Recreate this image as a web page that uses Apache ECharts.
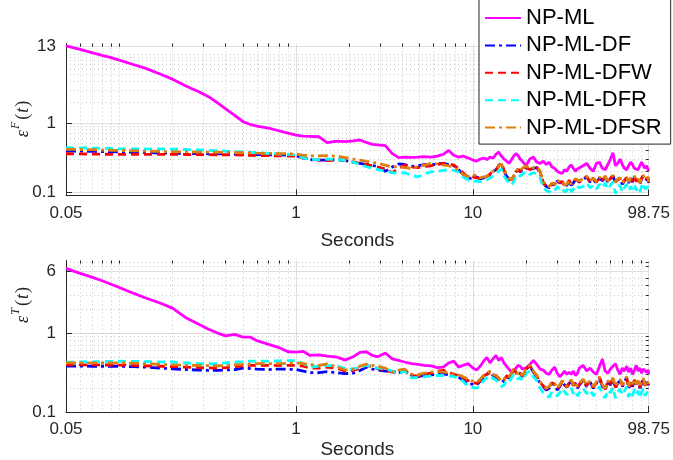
<!DOCTYPE html>
<html>
<head>
<meta charset="utf-8">
<script src="https://cdn.jsdelivr.net/npm/echarts@6/dist/echarts.min.js"></script>
<style>
  html, body { margin: 0; padding: 0; background: #fff; }
  #chart { width: 673px; height: 460px; }
</style>
</head>
<body>
<div id="chart"></div>
<script>
// Time stamps (seconds), shared by both panels
const seconds = [
  0.05, 0.06, 0.07, 0.08, 0.09, 0.1, 0.12, 0.14, 0.17, 0.2,
  0.24, 0.28, 0.32, 0.36, 0.4, 0.45, 0.5, 0.55, 0.6, 0.7,
  0.8, 0.9, 1, 1.1, 1.2, 1.35, 1.5, 1.7, 1.9, 2.1,
  2.3, 2.5, 2.7, 2.9, 3.2, 3.5, 3.8, 4.1, 4.5, 4.9,
  5.3, 5.8, 6.3, 6.8, 7.3, 7.8, 8.3, 8.8, 9.4, 10,
  10.5, 11, 11.5, 12, 12.5, 13, 13.5, 14, 14.5, 15,
  15.5, 16, 16.5, 17, 17.5, 18, 18.5, 19, 19.5, 20,
  21, 22, 23, 24, 25, 26, 27, 28, 29, 30,
  31, 32, 33, 34, 35, 36, 37, 38, 39, 40,
  42, 44, 46, 48, 50, 52, 54, 56, 58, 60,
  62, 64, 66, 68, 70, 72, 74, 76, 78, 80,
  82, 84, 86, 88, 90, 92, 94, 96, 98, 98.75
];

const seriesNames = ['NP-ML', 'NP-ML-DF', 'NP-ML-DFW', 'NP-ML-DFR', 'NP-ML-DFSR'];

// ---- Upper panel: eps^F(t) ----
const errF_ML = [
  13.0, 11.6, 10.4, 9.5, 8.8, 8.1, 7.0, 6.2, 5.1, 4.3,
  3.4, 2.85, 2.4, 1.95, 1.6, 1.28, 1.05, 0.95, 0.90, 0.84,
  0.77, 0.71, 0.665, 0.645, 0.64, 0.63, 0.52, 0.545, 0.535, 0.55,
  0.566, 0.52, 0.49, 0.48, 0.47, 0.36, 0.315, 0.32, 0.318, 0.32,
  0.325, 0.32, 0.33, 0.35, 0.40, 0.34, 0.32, 0.33, 0.31, 0.29,
  0.28, 0.30, 0.31, 0.295, 0.32, 0.31, 0.35, 0.38, 0.33, 0.30,
  0.28, 0.26, 0.29, 0.33, 0.36, 0.34, 0.30, 0.28, 0.29, 0.24,
  0.30, 0.32, 0.27, 0.26, 0.28, 0.25, 0.27, 0.23, 0.22, 0.20,
  0.19, 0.185, 0.21, 0.20, 0.23, 0.245, 0.22, 0.20, 0.215, 0.21,
  0.24, 0.26, 0.22, 0.20, 0.26, 0.27, 0.22, 0.21, 0.25, 0.30,
  0.37, 0.24, 0.26, 0.30, 0.25, 0.22, 0.21, 0.24, 0.27, 0.25,
  0.22, 0.23, 0.21, 0.24, 0.27, 0.26, 0.22, 0.24, 0.21, 0.20
];
const errF_DF = [
  0.392, 0.39, 0.387, 0.385, 0.382, 0.38, 0.376, 0.372, 0.367, 0.363,
  0.36, 0.359, 0.358, 0.356, 0.355, 0.352, 0.35, 0.349, 0.348, 0.346,
  0.344, 0.34, 0.335, 0.31, 0.295, 0.29, 0.29, 0.295, 0.285, 0.27,
  0.26, 0.25, 0.243, 0.232, 0.20, 0.23, 0.255, 0.25, 0.235, 0.24,
  0.25, 0.245, 0.255, 0.26, 0.25, 0.24, 0.21, 0.18, 0.155, 0.16,
  0.165, 0.155, 0.16, 0.165, 0.18, 0.195, 0.21, 0.24, 0.26, 0.20,
  0.17, 0.155, 0.145, 0.165, 0.19, 0.215, 0.195, 0.21, 0.23, 0.235,
  0.21, 0.22, 0.225, 0.19, 0.135, 0.12, 0.115, 0.13, 0.125, 0.145,
  0.135, 0.14, 0.12, 0.125, 0.145, 0.125, 0.135, 0.15, 0.155, 0.14,
  0.15, 0.165, 0.14, 0.15, 0.135, 0.16, 0.145, 0.165, 0.14, 0.155,
  0.17, 0.135, 0.15, 0.155, 0.13, 0.145, 0.16, 0.135, 0.155, 0.14,
  0.165, 0.14, 0.15, 0.13, 0.155, 0.17, 0.145, 0.15, 0.16, 0.135
];
const errF_DFW = [
  0.358, 0.356, 0.354, 0.352, 0.351, 0.35, 0.35, 0.35, 0.35, 0.35,
  0.349, 0.348, 0.347, 0.346, 0.346, 0.344, 0.342, 0.34, 0.338, 0.336,
  0.334, 0.332, 0.33, 0.31, 0.30, 0.29, 0.284, 0.29, 0.285, 0.27,
  0.26, 0.25, 0.24, 0.23, 0.215, 0.19, 0.22, 0.245, 0.23, 0.225,
  0.235, 0.24, 0.25, 0.26, 0.255, 0.245, 0.22, 0.19, 0.165, 0.165,
  0.16, 0.158, 0.162, 0.168, 0.182, 0.198, 0.205, 0.24, 0.265, 0.205,
  0.175, 0.158, 0.148, 0.168, 0.195, 0.21, 0.198, 0.215, 0.232, 0.238,
  0.212, 0.222, 0.228, 0.195, 0.138, 0.122, 0.118, 0.132, 0.128, 0.148,
  0.138, 0.142, 0.122, 0.128, 0.148, 0.128, 0.138, 0.152, 0.158, 0.142,
  0.152, 0.168, 0.142, 0.155, 0.138, 0.162, 0.148, 0.168, 0.142, 0.158,
  0.172, 0.138, 0.152, 0.158, 0.132, 0.148, 0.162, 0.138, 0.158, 0.145,
  0.168, 0.142, 0.152, 0.132, 0.158, 0.172, 0.148, 0.155, 0.162, 0.138
];
const errF_DFR = [
  0.437, 0.435, 0.432, 0.43, 0.426, 0.422, 0.42, 0.42, 0.42, 0.418,
  0.412, 0.408, 0.402, 0.396, 0.39, 0.385, 0.38, 0.375, 0.37, 0.362,
  0.355, 0.35, 0.343, 0.31, 0.297, 0.295, 0.30, 0.295, 0.285, 0.27,
  0.25, 0.232, 0.22, 0.21, 0.20, 0.19, 0.186, 0.19, 0.175, 0.166,
  0.18, 0.196, 0.20, 0.205, 0.21, 0.205, 0.195, 0.165, 0.15, 0.14,
  0.145, 0.14, 0.145, 0.15, 0.16, 0.17, 0.18, 0.20, 0.215, 0.17,
  0.15, 0.135, 0.125, 0.14, 0.165, 0.18, 0.17, 0.18, 0.19, 0.20,
  0.18, 0.19, 0.185, 0.16, 0.115, 0.105, 0.10, 0.11, 0.105, 0.12,
  0.11, 0.115, 0.10, 0.105, 0.12, 0.10, 0.11, 0.125, 0.13, 0.115,
  0.12, 0.135, 0.115, 0.125, 0.11, 0.13, 0.115, 0.135, 0.11, 0.125,
  0.14, 0.095, 0.12, 0.125, 0.10, 0.115, 0.13, 0.105, 0.12, 0.11,
  0.13, 0.105, 0.115, 0.10, 0.12, 0.135, 0.11, 0.115, 0.12, 0.105
];
const errF_DFSR = [
  0.415, 0.412, 0.41, 0.405, 0.402, 0.40, 0.395, 0.39, 0.386, 0.383,
  0.38, 0.378, 0.377, 0.376, 0.375, 0.372, 0.37, 0.368, 0.365, 0.362,
  0.36, 0.357, 0.355, 0.34, 0.335, 0.333, 0.335, 0.33, 0.315, 0.30,
  0.29, 0.278, 0.27, 0.26, 0.245, 0.23, 0.235, 0.225, 0.22, 0.232,
  0.245, 0.26, 0.255, 0.245, 0.24, 0.225, 0.205, 0.18, 0.168, 0.18,
  0.17, 0.16, 0.165, 0.17, 0.185, 0.20, 0.21, 0.235, 0.255, 0.21,
  0.18, 0.16, 0.15, 0.17, 0.20, 0.215, 0.20, 0.22, 0.235, 0.24,
  0.215, 0.225, 0.23, 0.20, 0.14, 0.125, 0.12, 0.135, 0.13, 0.15,
  0.14, 0.145, 0.125, 0.13, 0.15, 0.13, 0.14, 0.155, 0.16, 0.145,
  0.155, 0.17, 0.145, 0.16, 0.14, 0.165, 0.15, 0.17, 0.145, 0.16,
  0.175, 0.14, 0.155, 0.16, 0.135, 0.15, 0.165, 0.14, 0.16, 0.15,
  0.17, 0.145, 0.155, 0.135, 0.16, 0.175, 0.15, 0.16, 0.165, 0.14
];

// ---- Lower panel: eps^T(t) ----
const errT_ML = [
  6.6, 5.7, 5.1, 4.6, 4.15, 3.78, 3.2, 2.8, 2.4, 2.07,
  1.55, 1.3, 1.12, 1.0, 0.92, 0.96, 0.89, 0.89, 0.80, 0.72,
  0.655, 0.58, 0.575, 0.585, 0.52, 0.53, 0.51, 0.495, 0.455, 0.50,
  0.57, 0.58, 0.52, 0.50, 0.56, 0.47, 0.45, 0.43, 0.41, 0.40,
  0.39, 0.385, 0.365, 0.37, 0.42, 0.44, 0.37, 0.39, 0.41, 0.36,
  0.34, 0.38, 0.44, 0.49, 0.42, 0.47, 0.52, 0.45, 0.49, 0.42,
  0.38, 0.35, 0.32, 0.33, 0.36, 0.39, 0.38, 0.35, 0.34, 0.36,
  0.40, 0.45, 0.40, 0.35, 0.34, 0.31, 0.30, 0.34, 0.37, 0.31,
  0.28, 0.30, 0.33, 0.30, 0.32, 0.30, 0.33, 0.29, 0.31, 0.36,
  0.39, 0.33, 0.36, 0.32, 0.30, 0.38, 0.47, 0.33, 0.31, 0.35,
  0.38, 0.41, 0.34, 0.30, 0.36, 0.33, 0.38, 0.32, 0.36, 0.30,
  0.34, 0.39, 0.33, 0.36, 0.31, 0.35, 0.37, 0.32, 0.34, 0.30
];
const errT_DF = [
  0.382, 0.381, 0.38, 0.38, 0.38, 0.38, 0.375, 0.37, 0.36, 0.353,
  0.345, 0.34, 0.337, 0.337, 0.34, 0.345, 0.36, 0.355, 0.35, 0.345,
  0.35, 0.348, 0.346, 0.33, 0.315, 0.315, 0.325, 0.315, 0.306, 0.31,
  0.335, 0.37, 0.35, 0.34, 0.33, 0.33, 0.31, 0.34, 0.29, 0.28,
  0.29, 0.295, 0.30, 0.305, 0.295, 0.29, 0.275, 0.255, 0.225, 0.225,
  0.22, 0.245, 0.275, 0.30, 0.32, 0.29, 0.28, 0.26, 0.235, 0.25,
  0.28, 0.27, 0.30, 0.34, 0.32, 0.29, 0.31, 0.28, 0.30, 0.35,
  0.38, 0.32, 0.28, 0.23, 0.21, 0.19, 0.20, 0.23, 0.22, 0.19,
  0.21, 0.24, 0.22, 0.20, 0.23, 0.245, 0.21, 0.23, 0.20, 0.22,
  0.25, 0.21, 0.24, 0.20, 0.23, 0.27, 0.21, 0.19, 0.24, 0.22,
  0.26, 0.20, 0.23, 0.25, 0.21, 0.24, 0.27, 0.20, 0.23, 0.21,
  0.25, 0.22, 0.24, 0.20, 0.23, 0.26, 0.21, 0.24, 0.22, 0.23
];
const errT_DFW = [
  0.396, 0.395, 0.395, 0.394, 0.394, 0.393, 0.39, 0.385, 0.38, 0.375,
  0.37, 0.365, 0.362, 0.36, 0.365, 0.375, 0.385, 0.39, 0.39, 0.39,
  0.39, 0.39, 0.39, 0.38, 0.36, 0.36, 0.37, 0.36, 0.33, 0.335,
  0.36, 0.39, 0.37, 0.355, 0.34, 0.32, 0.325, 0.335, 0.29, 0.285,
  0.30, 0.31, 0.33, 0.337, 0.32, 0.30, 0.29, 0.27, 0.25, 0.235,
  0.23, 0.25, 0.285, 0.30, 0.325, 0.295, 0.29, 0.265, 0.24, 0.255,
  0.285, 0.28, 0.305, 0.345, 0.32, 0.295, 0.315, 0.285, 0.305, 0.355,
  0.385, 0.325, 0.285, 0.235, 0.215, 0.195, 0.205, 0.235, 0.225, 0.195,
  0.215, 0.245, 0.225, 0.205, 0.235, 0.25, 0.215, 0.235, 0.205, 0.225,
  0.255, 0.215, 0.245, 0.205, 0.235, 0.275, 0.215, 0.195, 0.245, 0.225,
  0.265, 0.205, 0.235, 0.255, 0.215, 0.245, 0.275, 0.205, 0.235, 0.215,
  0.255, 0.225, 0.245, 0.205, 0.235, 0.265, 0.215, 0.245, 0.225, 0.235
];
const errT_DFR = [
  0.428, 0.43, 0.432, 0.435, 0.438, 0.44, 0.438, 0.435, 0.432, 0.43,
  0.42, 0.41, 0.407, 0.41, 0.42, 0.43, 0.435, 0.44, 0.44, 0.44,
  0.445, 0.448, 0.448, 0.41, 0.37, 0.38, 0.39, 0.38, 0.355, 0.35,
  0.37, 0.39, 0.37, 0.36, 0.355, 0.33, 0.31, 0.33, 0.27, 0.275,
  0.28, 0.285, 0.29, 0.29, 0.285, 0.28, 0.27, 0.245, 0.21, 0.205,
  0.20, 0.22, 0.25, 0.27, 0.29, 0.265, 0.255, 0.235, 0.21, 0.22,
  0.25, 0.24, 0.27, 0.30, 0.285, 0.26, 0.275, 0.25, 0.27, 0.31,
  0.33, 0.28, 0.25, 0.20, 0.175, 0.16, 0.155, 0.18, 0.17, 0.16,
  0.175, 0.20, 0.18, 0.165, 0.185, 0.20, 0.17, 0.185, 0.16, 0.175,
  0.20, 0.17, 0.19, 0.16, 0.185, 0.21, 0.17, 0.15, 0.19, 0.175,
  0.205, 0.15, 0.18, 0.195, 0.165, 0.185, 0.21, 0.155, 0.18, 0.16,
  0.195, 0.17, 0.185, 0.15, 0.18, 0.20, 0.16, 0.175, 0.17, 0.18
];
const errT_DFSR = [
  0.42, 0.42, 0.42, 0.42, 0.42, 0.42, 0.415, 0.41, 0.40, 0.396,
  0.39, 0.388, 0.386, 0.385, 0.388, 0.395, 0.40, 0.405, 0.41, 0.41,
  0.41, 0.415, 0.42, 0.41, 0.40, 0.39, 0.407, 0.37, 0.34, 0.35,
  0.38, 0.405, 0.39, 0.38, 0.36, 0.32, 0.34, 0.35, 0.30, 0.295,
  0.31, 0.32, 0.325, 0.32, 0.315, 0.305, 0.295, 0.28, 0.26, 0.245,
  0.235, 0.26, 0.29, 0.31, 0.33, 0.30, 0.29, 0.27, 0.245, 0.26,
  0.29, 0.28, 0.31, 0.35, 0.33, 0.30, 0.32, 0.29, 0.31, 0.36,
  0.39, 0.33, 0.29, 0.24, 0.22, 0.20, 0.21, 0.24, 0.23, 0.20,
  0.22, 0.25, 0.23, 0.21, 0.24, 0.255, 0.22, 0.24, 0.21, 0.23,
  0.26, 0.22, 0.25, 0.21, 0.24, 0.28, 0.22, 0.20, 0.25, 0.23,
  0.27, 0.21, 0.24, 0.26, 0.22, 0.25, 0.28, 0.21, 0.24, 0.22,
  0.26, 0.23, 0.25, 0.21, 0.24, 0.27, 0.22, 0.25, 0.23, 0.24
];

// Tick values and their labels
const xTicks = [0.05, 1, 10, 98.75];
const xTickLabels = ['0.05', '1', '10', '98.75'];
const xMinor = [0.06, 0.07, 0.08, 0.09, 0.1, 0.2, 0.3, 0.4, 0.5, 0.6, 0.7, 0.8, 0.9,
  2, 3, 4, 5, 6, 7, 8, 9, 20, 30, 40, 50, 60, 70, 80, 90];
const yTicksF = [0.1, 1, 13];
const yTickLabelsF = ['0.1', '1', '13'];
const yMinorF = [0.09, 0.2, 0.3, 0.4, 0.5, 0.6, 0.7, 0.8, 0.9, 2, 3, 4, 5, 6, 7, 8, 9, 10];
const yTicksT = [0.1, 1, 6];
const yTickLabelsT = ['0.1', '1', '6'];
const yMinorT = [0.2, 0.3, 0.4, 0.5, 0.6, 0.7, 0.8, 0.9, 2, 3, 4, 5, 7, 8];

const AX = '#262626';
const MAJOR_GRID = '#dedede';
const MINOR_GRID = '#c8c8c8';
const FONT = 'Liberation Sans, Arial, sans-serif';
const SERIF = 'Liberation Serif, serif';

function labelFor(ticks, labels) {
  return function (v) {
    let best = 0, bd = Infinity;
    for (let i = 0; i < ticks.length; i++) {
      const d = Math.abs(Math.log(v) - Math.log(ticks[i]));
      if (d < bd) { bd = d; best = i; }
    }
    return bd < 0.01 ? labels[best] : '';
  };
}

function majorX(gridIndex, nameGap) {
  return {
    type: 'log', logBase: 10, gridIndex: gridIndex, min: 0.05, max: 98.75,
    name: 'Seconds', nameLocation: 'middle', nameGap: nameGap,
    nameTextStyle: { fontSize: 19, color: AX, fontFamily: FONT },
    axisLine: { show: true, lineStyle: { color: AX, width: 1 } },
    axisTick: { show: true, inside: true, length: 6, customValues: xTicks, lineStyle: { color: AX } },
    axisLabel: { show: true, customValues: xTicks, formatter: labelFor(xTicks, xTickLabels),
      fontSize: 17, color: AX, fontFamily: FONT, margin: 9 },
    splitLine: { show: true, lineStyle: { color: MAJOR_GRID, width: 1 } }
  };
}
function minorX(gridIndex) {
  return {
    type: 'log', logBase: 10, gridIndex: gridIndex, min: 0.05, max: 98.75,
    axisLine: { show: false },
    axisTick: { show: true, inside: true, length: 3, customValues: xMinor, lineStyle: { color: AX } },
    axisLabel: { show: false },
    splitLine: { show: true, lineStyle: { color: MINOR_GRID, width: 1, type: [1, 3] } }
  };
}
function majorY(gridIndex, min, max, ticks, labels) {
  return {
    type: 'log', logBase: 10, gridIndex: gridIndex, min: min, max: max,
    axisLine: { show: true, lineStyle: { color: AX, width: 1 } },
    axisTick: { show: true, inside: true, length: 6, customValues: ticks, lineStyle: { color: AX } },
    axisLabel: { show: true, customValues: ticks, formatter: labelFor(ticks, labels),
      fontSize: 17, color: AX, fontFamily: FONT, margin: 10 },
    splitLine: { show: true, lineStyle: { color: MAJOR_GRID, width: 1 } }
  };
}
function minorY(gridIndex, min, max, ticks) {
  return {
    type: 'log', logBase: 10, gridIndex: gridIndex, min: min, max: max,
    axisLine: { show: false },
    axisTick: { show: true, inside: true, length: 3, customValues: ticks, lineStyle: { color: AX } },
    axisLabel: { show: false },
    splitLine: { show: true, lineStyle: { color: MINOR_GRID, width: 1, type: [1, 3] } }
  };
}

const styles = [
  { color: '#ff00ff', type: 'solid' },
  { color: '#0000ff', type: [10, 4, 3, 4] },
  { color: '#ff0000', type: [8, 5] },
  { color: '#00ffff', type: [8, 5] },
  { color: '#dd7f0e', type: [10, 4, 3, 4] }
];

function makeSeries(valuesList, axisIndex) {
  return valuesList.map(function (vals, k) {
    return {
      name: seriesNames[k], type: 'line',
      xAxisIndex: axisIndex, yAxisIndex: axisIndex,
      data: seconds.map(function (t, i) { return [t, vals[i]]; }),
      showSymbol: false, symbol: 'none', smooth: false,
      color: styles[k].color,
      lineStyle: { color: styles[k].color, width: 2.8, type: styles[k].type },
      z: 2 + k
    };
  });
}

const chart = echarts.init(document.getElementById('chart'), null, { renderer: 'canvas' });

// Rotated axis title: italic epsilon with a superscript, followed by (t)
const yName = function (sup, y) {
  const base = { fontSize: 18, fontFamily: SERIF, fill: AX, lineHeight: 22, verticalAlign: 'bottom' };
  return {
    type: 'text', x: 21, y: y, rotation: Math.PI / 2,
    style: {
      text: '{e|ε}{s|' + sup + '}{p|(}{t|t}{p|)}',
      align: 'center', verticalAlign: 'middle',
      rich: {
        e: Object.assign({}, base, { fontStyle: 'italic' }),
        s: { fontSize: 12, fontStyle: 'italic', fontFamily: SERIF, fill: AX, lineHeight: 13, verticalAlign: 'top', padding: [0, 2, 0, 1] },
        p: base,
        t: Object.assign({}, base, { fontStyle: 'italic', padding: [0, 1, 0, 1] })
      }
    }
  };
};

chart.setOption({
  animation: false,
  backgroundColor: '#ffffff',
  grid: [
    { left: 66, top: 43.5, width: 588.3, height: 152 },
    { left: 66, top: 260.5, width: 588.3, height: 153.5 }
  ],
  xAxis: [majorX(0, 36), minorX(0), majorX(1, 28), minorX(1)],
  yAxis: [
    majorY(0, 0.089, 14.1, yTicksF, yTickLabelsF),
    minorY(0, 0.089, 14.1, yMinorF),
    majorY(1, 0.1, 8.3, yTicksT, yTickLabelsT),
    minorY(1, 0.1, 8.3, yMinorT)
  ],
  legend: {
    data: seriesNames,
    orient: 'vertical', left: 479, top: -1,
    padding: [8, 9, 5.5, 5],
    itemWidth: 36, itemHeight: 14, itemGap: 5.4,
    itemStyle: { opacity: 0, borderWidth: 0 },
    backgroundColor: '#ffffff', borderColor: AX, borderWidth: 1,
    textStyle: { fontSize: 22, lineHeight: 22, color: '#000', fontFamily: FONT },
    z: 20
  },
  graphic: [yName('F', 119), yName('T', 305)],
  series: makeSeries([errF_ML, errF_DF, errF_DFW, errF_DFR, errF_DFSR], 0)
    .concat(makeSeries([errT_ML, errT_DF, errT_DFW, errT_DFR, errT_DFSR], 2))
});
</script>
</body>
</html>
